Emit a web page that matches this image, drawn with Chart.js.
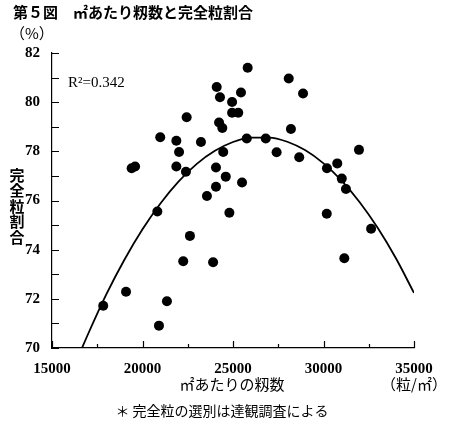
<!DOCTYPE html>
<html>
<head>
<meta charset="utf-8">
<script src="https://cdn.jsdelivr.net/npm/chart.js@4/dist/chart.umd.min.js"></script>
<style>
  html, body { margin: 0; padding: 0; background: #fff; }
</style>
</head>
<body>
<canvas id="chart" width="450" height="424"></canvas>
<script>
// grains per m2 (x) and full grain rate % (y)
const grainsPerM2 = [
  25810, 24100, 25440, 24280, 24950, 24950, 25290, 22440, 24230, 24410,
  25760, 20980, 21870, 23230, 22020, 24460, 19400, 19590, 21870, 22400,
  24060, 24600, 25500, 24060, 23560, 28080, 28870, 28200, 26810, 27410,
  28660, 31960, 30190, 30760, 31010, 31240, 20820, 24800, 22620, 22250,
  23900, 19090, 17830, 21350, 20910, 30180, 32630, 31150
];
const fullGrainRate = [
  81.40, 80.62, 80.39, 80.20, 80.01, 79.57, 79.57, 79.39, 79.17, 78.95,
  78.52, 78.57, 78.43, 78.38, 77.97, 77.97, 77.31, 77.38, 77.38, 77.17,
  77.34, 76.97, 76.73, 76.56, 76.18, 80.96, 80.35, 78.91, 78.52, 77.96,
  77.76, 78.06, 77.31, 77.51, 76.89, 76.47, 75.55, 75.50, 74.56, 73.53,
  73.49, 72.29, 71.72, 71.90, 70.91, 75.46, 74.85, 73.65
];

// regression curve
const curveX = [16660, 17000, 18000, 19000, 20000, 21000, 22000, 23000, 24000, 25000,
  26000, 27000, 28000, 29000, 30000, 31000, 32000, 33000, 34000, 35000];
const curveY = [70.00, 70.58, 72.18, 73.59, 74.83, 75.89, 76.78, 77.49, 78.02, 78.38,
  78.56, 78.56, 78.39, 78.04, 77.51, 76.81, 75.93, 74.88, 73.65, 72.24];

const xMajorTicks = [15000, 20000, 25000, 30000, 35000];
const xMinorTicks = [17500, 22500, 27500, 32500];
const yTickMarks = [70, 71, 72, 73, 74, 75, 76, 77, 78, 79, 80, 81, 82];

const serif = '"Liberation Serif", "DejaVu Serif", serif';
const cjk = '"Noto Sans CJK JP", "Noto Sans", sans-serif';

const points = grainsPerM2.map((x, i) => ({ x: x, y: fullGrainRate[i] }));
const curve = curveX.map((x, i) => ({ x: x, y: curveY[i] }));

// inward tick marks + texts around the plot
const decorations = {
  id: 'decorations',
  afterDraw(chart) {
    const ctx = chart.ctx;
    const xs = chart.scales.x;
    const ys = chart.scales.y;
    const area = chart.chartArea;
    ctx.save();
    ctx.strokeStyle = '#000';
    ctx.lineWidth = 1.2;
    ctx.beginPath();
    xMajorTicks.forEach(v => {
      const px = Math.round(xs.getPixelForValue(v)) + 0.5;
      ctx.moveTo(px, area.bottom);
      ctx.lineTo(px, area.bottom - 7);
    });
    xMinorTicks.forEach(v => {
      const px = Math.round(xs.getPixelForValue(v)) + 0.5;
      ctx.moveTo(px, area.bottom);
      ctx.lineTo(px, area.bottom - 4);
    });
    yTickMarks.forEach(v => {
      const py = Math.round(ys.getPixelForValue(v)) + 0.5;
      ctx.moveTo(area.left, py);
      ctx.lineTo(area.left + 7, py);
    });
    ctx.stroke();

    ctx.fillStyle = '#000';
    ctx.textBaseline = 'middle';
    ctx.textAlign = 'left';
    ctx.font = 'bold 15px ' + cjk;
    ctx.fillText('第５図　㎡あたり籾数と完全粒割合', 13, 12);
    ctx.font = '15px ' + cjk;
    ctx.fillText('（%）', 10, 33);

    ctx.font = '15px ' + serif;
    ctx.fillText('R²=0.342', 68, 83);

    // vertical y title
    ctx.font = 'bold 15px ' + cjk;
    ctx.textAlign = 'center';
    const yTitle = '完全粒割合';
    for (let i = 0; i < yTitle.length; i++) {
      ctx.fillText(yTitle[i], 17, 175 + i * 15.5);
    }

    ctx.font = '15px ' + cjk;
    ctx.fillText('㎡あたりの籾数', 232, 384);
    ctx.fillText('（粒/㎡）', 414, 384);
    ctx.font = '14px ' + cjk;
    ctx.fillText('＊ 完全粒の選別は達観調査による', 222, 411);
    ctx.restore();
  }
};

new Chart(document.getElementById('chart'), {
  type: 'scatter',
  data: {
    datasets: [
      {
        data: points,
        backgroundColor: '#000',
        borderWidth: 0,
        pointRadius: 5,
        order: 1
      },
      {
        type: 'line',
        data: curve,
        borderColor: '#000',
        borderWidth: 1.8,
        pointRadius: 0,
        fill: false,
        cubicInterpolationMode: 'monotone',
        order: 2
      }
    ]
  },
  options: {
    responsive: false,
    animation: false,
    layout: { padding: { top: 53, right: 36, bottom: 0, left: 0 } },
    plugins: {
      legend: { display: false },
      tooltip: { enabled: false }
    },
    scales: {
      x: {
        type: 'linear',
        min: 15000,
        max: 35000,
        afterFit(scale) { scale.height = 76; },
        border: { display: true, color: '#000', width: 1.2 },
        grid: { display: false, drawTicks: false },
        ticks: {
          stepSize: 5000,
          padding: 12,
          color: '#000',
          maxRotation: 0,
          font: { family: serif, size: 15, weight: 'bold' },
          callback: v => String(v)
        }
      },
      y: {
        min: 70,
        max: 82,
        afterFit(scale) { scale.width = 52; },
        border: { display: true, color: '#000', width: 1.2 },
        grid: { display: false, drawTicks: false },
        ticks: {
          stepSize: 2,
          padding: 12,
          color: '#000',
          font: { family: serif, size: 15, weight: 'bold' }
        }
      }
    }
  },
  plugins: [decorations]
});
</script>
</body>
</html>
